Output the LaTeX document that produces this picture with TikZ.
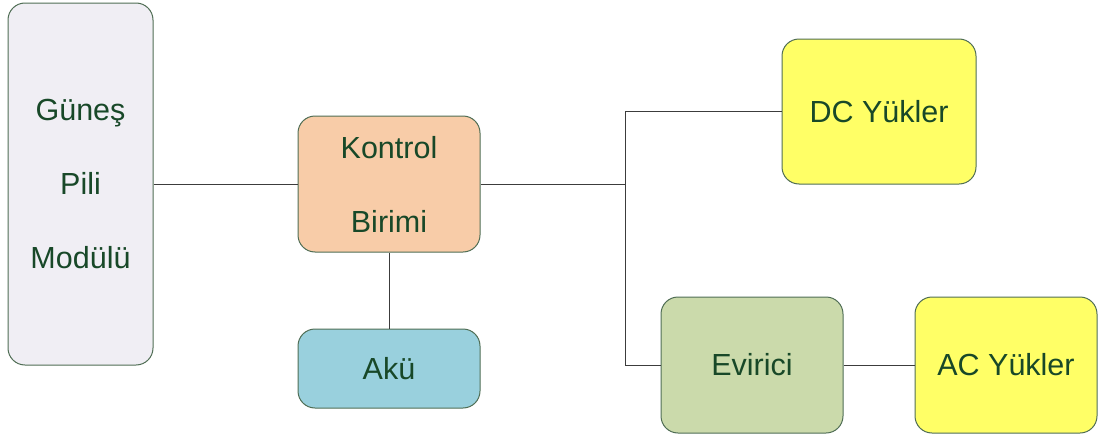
\documentclass[tikz,border=0pt]{standalone}
\usepackage{fontspec}
\setmainfont{Liberation Sans}
\definecolor{txt}{RGB}{24,72,40}
\definecolor{bord}{RGB}{80,110,85}
\definecolor{wire}{RGB}{60,60,60}
\definecolor{cgunes}{RGB}{240,238,244}
\definecolor{ckontrol}{RGB}{248,204,168}
\definecolor{caku}{RGB}{153,208,221}
\definecolor{cyuk}{RGB}{255,255,102}
\definecolor{cevir}{RGB}{203,218,171}
\tikzset{
  blk/.style={draw=bord, line width=1pt, rounded corners=17pt, text=txt, align=center,
    font={\fontsize{30.5}{74}\selectfont}, inner sep=0pt},
  wireline/.style={draw=wire, line width=1pt}
}
\begin{document}
\begin{tikzpicture}[x=1pt,y=-1pt]
\useasboundingbox (0,0) rectangle (1101,439);
\node[blk, fill=cgunes, minimum width=145pt, minimum height=362pt] (gunes) at (80.5,184) {Güneş\\Pili\\Modülü};
\node[blk, fill=ckontrol, minimum width=182pt, minimum height=136pt] (kontrol) at (389,184) {Kontrol\\Birimi};
\node[blk, fill=caku, minimum width=182pt, minimum height=79pt] (aku) at (389,368.5) {Akü};
\node[blk, fill=cyuk, minimum width=194pt, minimum height=145pt] (dc) at (879,111.5) {DC Yükler};
\node[blk, fill=cevir, minimum width=182pt, minimum height=136pt] (evir) at (752,365) {Evirici};
\node[blk, fill=cyuk, minimum width=182pt, minimum height=136pt] (ac) at (1006,365) {AC Yükler};
\coordinate (j) at (625,184);
\draw[wireline] (gunes.east) -- (kontrol.west);
\draw[wireline] (kontrol.east) -- (j);
\draw[wireline] (j) |- (dc.west);
\draw[wireline] (j) |- (evir.west);
\draw[wireline] (evir.east) -- (ac.west);
\draw[wireline] (kontrol.south) -- (aku.north);
\end{tikzpicture}
\end{document}
